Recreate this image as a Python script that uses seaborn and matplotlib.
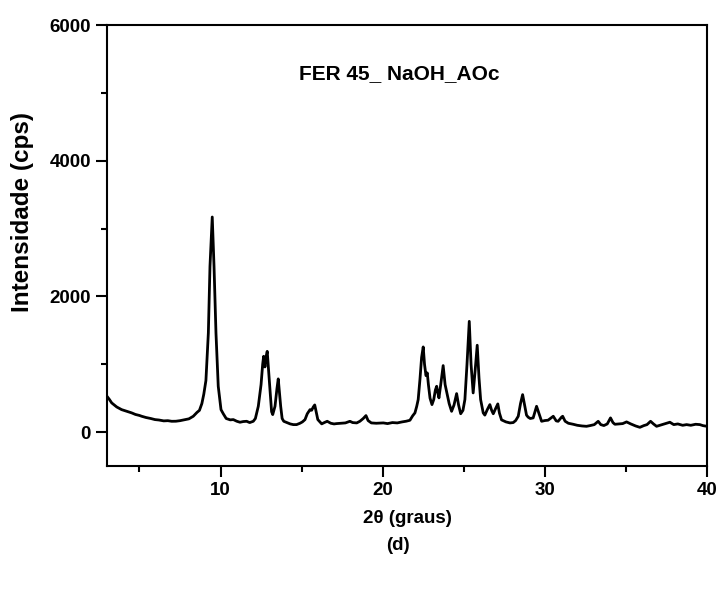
import numpy as np
import matplotlib as mpl
mpl.use("Agg")
from matplotlib import pyplot as plt
from matplotlib.ticker import MultipleLocator
import seaborn as sns
import pandas as pd

sns.set_theme(style="ticks")
plt.rcParams['font.family'] = ['Liberation Sans', 'DejaVu Sans']
plt.rcParams['font.weight'] = 'bold'
plt.rcParams['text.color'] = 'black'
plt.rcParams['axes.labelcolor'] = 'black'
plt.rcParams['xtick.color'] = 'black'
plt.rcParams['ytick.color'] = 'black'

# XRD pattern
two_theta = [3.00, 3.15, 3.29, 3.45, 3.60, 3.75, 3.90, 4.10, 4.30, 4.52, 4.75, 5.00, 5.14, 5.40, 5.70,
             5.96, 6.20, 6.50, 6.75, 6.99, 7.25, 7.50, 7.81, 8.05, 8.32, 8.55, 8.70, 8.85, 8.97, 9.10,
             9.25, 9.35, 9.49, 9.60, 9.72, 9.86, 10.03, 10.17, 10.35, 10.60, 10.79, 11.00, 11.20, 11.40,
             11.61, 11.80, 12.02, 12.15, 12.33, 12.50, 12.60, 12.66, 12.74, 12.80, 12.88, 12.95, 13.05,
             13.15, 13.22, 13.36, 13.48, 13.56, 13.64, 13.71, 13.80, 13.90, 14.10, 14.30, 14.49, 14.69,
             14.90, 15.05, 15.21, 15.35, 15.52, 15.62, 15.72, 15.81, 15.90, 16.00, 16.24, 16.40, 16.58,
             16.80, 17.00, 17.16, 17.40, 17.70, 17.98, 18.15, 18.40, 18.60, 18.80, 18.97, 19.10, 19.30,
             19.60, 20.04, 20.30, 20.60, 20.90, 21.20, 21.45, 21.68, 21.85, 21.99, 22.10, 22.19, 22.30,
             22.40, 22.50, 22.58, 22.67, 22.75, 22.82, 22.92, 23.04, 23.15, 23.25, 23.33, 23.40, 23.47,
             23.58, 23.73, 23.85, 23.98, 24.10, 24.25, 24.40, 24.56, 24.68, 24.81, 24.95, 25.07, 25.20,
             25.34, 25.45, 25.58, 25.70, 25.83, 25.94, 26.04, 26.20, 26.30, 26.45, 26.61, 26.72, 26.82,
             26.97, 27.10, 27.20, 27.33, 27.60, 27.85, 28.05, 28.20, 28.36, 28.50, 28.63, 28.75, 28.87,
             28.97, 29.10, 29.28, 29.49, 29.60, 29.80, 30.00, 30.20, 30.40, 30.52, 30.70, 30.82, 31.03,
             31.10, 31.25, 31.45, 31.75, 32.00, 32.30, 32.57, 32.80, 33.05, 33.29, 33.45, 33.64, 33.85,
             34.05, 34.20, 34.32, 34.60, 34.80, 35.04, 35.30, 35.60, 35.86, 36.10, 36.30, 36.52, 36.70,
             36.89, 37.10, 37.40, 37.71, 37.95, 38.20, 38.50, 38.74, 39.00, 39.30, 39.56, 39.75, 40.00]
intensity = [527, 480, 430, 400, 370, 350, 331, 315, 300, 283, 260, 245, 233, 215, 200,
             184, 178, 165, 168, 159, 160, 168, 184, 195, 233, 290, 320, 420, 560, 760,
             1461, 2442, 3170, 2442, 1461, 675, 331, 270, 200, 180, 184, 160, 145, 155,
             159, 140, 159, 200, 380, 700, 1000, 1117, 960, 1100, 1190, 950, 626,
             300, 258, 380, 640, 784, 560, 380, 200, 159, 140, 120, 110, 110,
             130, 150, 184, 270, 331, 321, 370, 400, 300, 184, 121, 140, 159,
             130, 120, 125, 130, 135, 159, 140, 135, 160, 200, 243, 170, 135,
             130, 135, 125, 140, 135, 150, 160, 174, 240, 283, 380, 479, 780,
             1100, 1255, 1000, 832, 872, 700, 500, 405, 480, 620, 675, 580, 504,
             700, 980, 700, 552, 420, 306, 400, 567, 400, 270, 320, 479, 1000,
             1632, 1000, 577, 900, 1280, 800, 479, 283, 250, 330, 405, 320, 270,
             350, 415, 280, 180, 150, 135, 140, 170, 233, 420, 552, 400, 250,
             220, 200, 209, 380, 300, 159, 170, 175, 210, 233, 165, 159, 220,
             233, 160, 130, 115, 100, 90, 85, 96, 110, 159, 110, 96, 120,
             209, 140, 115, 120, 125, 150, 120, 90, 70, 95, 110, 159, 120,
             85, 100, 120, 145, 110, 120, 100, 110, 100, 115, 110, 95, 85]

df = pd.DataFrame({'two_theta': two_theta, 'intensity': intensity})

fig = plt.figure(figsize=(7.2, 5.92), dpi=100)
ax = fig.add_axes([107/720, 1 - 466/592, 600/720, 441/592])
sns.lineplot(data=df, x='two_theta', y='intensity', ax=ax, color='black', lw=2,
             sort=False, estimator=None)

ax.set_xlim(3, 40)
ax.set_ylim(-500, 6000)
ax.xaxis.set_major_locator(MultipleLocator(10))
ax.xaxis.set_minor_locator(MultipleLocator(5))
ax.yaxis.set_major_locator(MultipleLocator(2000))
ax.yaxis.set_minor_locator(MultipleLocator(1000))
ax.tick_params(which='major', direction='out', length=8, width=1.5, labelsize=13.5)
ax.tick_params(which='minor', direction='out', length=4, width=1.5)
for lab in ax.get_xticklabels() + ax.get_yticklabels():
    lab.set_fontweight('bold')
for sp in ax.spines.values():
    sp.set_visible(True)
    sp.set_linewidth(1.5)
    sp.set_color('black')

ax.set_xlabel('2θ (graus)', fontsize=13.5, fontweight='bold', labelpad=8)
ax.set_ylabel('Intensidade (cps)', fontsize=17.5, fontweight='bold')
ax.yaxis.set_label_coords(-0.122, 0.576)
ax.text(21.0, 5290, 'FER 45_ NaOH_AOc', fontsize=15, fontweight='bold', ha='center', va='center')
fig.text(398/720, 1 - 546/592, '(d)', fontsize=13.5, fontweight='bold', ha='center', va='center')

fig.savefig('out.png', dpi=100)
